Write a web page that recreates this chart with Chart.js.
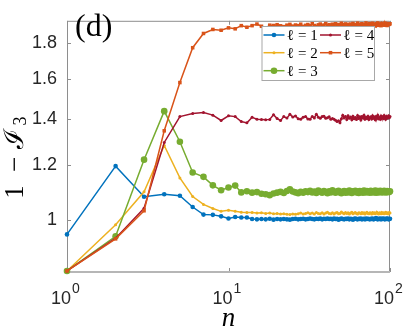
<!DOCTYPE html>
<html><head><meta charset="utf-8">
<script src="https://cdn.jsdelivr.net/npm/chart.js@4.4.0/dist/chart.umd.min.js"></script>
<style>html,body{margin:0;padding:0;background:#fff;} #wrap{width:407px;height:332px;}</style>
</head><body><div id="wrap"><canvas id="c" width="407" height="332"></canvas></div>
<script>
const nValues = [1,2,3,4,5,6,7,8,9,10,11,12,13,14,15,16,17,18,19,20,21,22,23,24,25,26,27,28,29,30,31,32,33,34,35,36,37,38,39,40,41,42,43,44,45,46,47,48,49,50,51,52,53,54,55,56,57,58,59,60,61,62,63,64,65,66,67,68,69,70,71,72,73,74,75,76,77,78,79,80,81,82,83,84,85,86,87,88,89,90,91,92,93,94,95,96,97,98,99,100];

const legendLabels = ['\u2113 = 1','\u2113 = 2','\u2113 = 3','\u2113 = 4','\u2113 = 5'];

const seriesL1 = [0.954,1.197,1.081,1.090,1.085,1.045,1.019,1.018,1.013,1.006,1.011,1.009,1.009,1.004,1.003,
1.004,1.003,1.005,1.002,1.004,1.003,1.004,1.003,1.002,1.004,1.005,1.003,1.004,1.005,1.003,
1.004,1.006,1.004,1.003,1.005,1.004,1.006,1.003,1.005,1.004,1.006,1.004,1.005,1.003,1.006,
1.004,1.005,1.002,1.004,1.006,1.004,1.003,1.005,1.004,1.006,1.003,1.005,1.004,1.002,1.005,
1.006,1.004,1.003,1.005,1.004,1.006,1.003,1.004,1.005,1.003,1.006,1.004,1.005,1.004,1.003,
1.005,1.004,1.006,1.003,1.004,1.005,1.007,1.004,1.003,1.005,1.004,1.006,1.003,1.005,1.004,
1.006,1.004,1.003,1.005,1.004,1.006,1.005,1.003,1.004,1.005];

const seriesL2 = [0.845,0.985,1.099,1.282,1.151,1.082,1.054,1.040,1.030,1.034,1.030,1.027,1.026,1.026,1.024,
1.025,1.023,1.024,1.022,1.023,1.021,1.022,1.020,1.019,1.021,1.020,1.022,1.024,1.021,1.023,
1.025,1.022,1.024,1.021,1.026,1.023,1.022,1.025,1.021,1.024,1.027,1.023,1.022,1.025,1.021,
1.024,1.026,1.022,1.023,1.028,1.024,1.022,1.026,1.023,1.025,1.021,1.024,1.027,1.022,1.024,
1.026,1.023,1.021,1.025,1.024,1.022,1.026,1.023,1.025,1.021,1.024,1.027,1.023,1.022,1.025,
1.024,1.021,1.026,1.023,1.025,1.022,1.024,1.027,1.023,1.021,1.025,1.024,1.022,1.026,1.023,
1.025,1.022,1.024,1.027,1.023,1.025,1.022,1.024,1.026,1.024];

const seriesL3 = [0.845,0.948,1.223,1.437,1.298,1.172,1.155,1.123,1.105,1.115,1.122,1.097,1.101,1.096,1.098,
1.092,1.090,1.087,1.093,1.096,1.099,1.095,1.102,1.108,1.100,1.097,1.094,1.099,1.096,1.101,
1.098,1.103,1.097,1.100,1.095,1.104,1.099,1.096,1.102,1.098,1.094,1.101,1.097,1.105,1.099,
1.096,1.100,1.103,1.097,1.094,1.099,1.102,1.096,1.100,1.097,1.104,1.098,1.095,1.101,1.099,
1.103,1.097,1.100,1.095,1.102,1.098,1.101,1.096,1.104,1.099,1.097,1.102,1.098,1.100,1.096,
1.103,1.099,1.097,1.101,1.098,1.104,1.096,1.100,1.102,1.097,1.099,1.103,1.098,1.101,1.097,
1.100,1.103,1.098,1.101,1.097,1.102,1.099,1.100,1.098,1.101];

const seriesL4 = [0.845,0.942,1.041,1.295,1.411,1.426,1.430,1.418,1.393,1.415,1.411,1.388,1.382,1.408,1.399,
1.397,1.396,1.398,1.420,1.402,1.393,1.411,1.404,1.422,1.409,1.414,1.401,1.399,1.408,1.411,
1.400,1.399,1.412,1.405,1.422,1.408,1.403,1.411,1.413,1.403,1.406,1.410,1.399,1.402,1.399,
1.394,1.388,1.392,1.382,1.401,1.418,1.405,1.412,1.397,1.415,1.403,1.409,1.396,1.413,1.401,
1.407,1.398,1.416,1.402,1.410,1.395,1.411,1.404,1.417,1.399,1.408,1.402,1.413,1.397,1.406,
1.410,1.400,1.415,1.403,1.409,1.396,1.412,1.405,1.418,1.401,1.407,1.399,1.414,1.404,1.410,
1.402,1.416,1.406,1.399,1.412,1.404,1.409,1.415,1.406,1.411];

const seriesL5 = [0.845,0.940,1.032,1.346,1.580,1.774,1.860,1.885,1.880,1.895,1.889,1.909,1.899,1.909,1.919,
1.905,1.893,1.912,1.910,1.915,1.908,1.903,1.912,1.917,1.906,1.913,1.909,1.918,1.904,1.911,
1.916,1.908,1.921,1.910,1.905,1.914,1.919,1.907,1.913,1.922,1.909,1.915,1.906,1.918,1.912,
1.921,1.908,1.916,1.911,1.924,1.907,1.915,1.920,1.910,1.917,1.905,1.919,1.913,1.923,1.909,
1.916,1.912,1.925,1.908,1.918,1.914,1.921,1.906,1.917,1.911,1.926,1.913,1.919,1.909,1.922,
1.915,1.910,1.924,1.912,1.918,1.907,1.921,1.914,1.926,1.911,1.917,1.920,1.909,1.923,1.915,
1.918,1.912,1.925,1.914,1.920,1.910,1.922,1.916,1.919,1.921];

const xTickValues = [1, 10, 100];
const xTickExponents = ['0', '1', '2'];
const yTickValues = [1, 1.2, 1.4, 1.6, 1.8];
const yTickLabels = ['1', '1.2', '1.4', '1.6', '1.8'];

const SANS = '"Liberation Sans", Arial, Helvetica, sans-serif';
const SERIF = '"Liberation Serif", "DejaVu Serif", "Times New Roman", serif';

function makeDataset(label, values, color, style, radius, order) {
  return {
    label: label,
    data: nValues.map((n, i) => ({ x: n, y: values[i] })),
    borderColor: color,
    backgroundColor: color,
    borderWidth: 1.5,
    pointStyle: style,
    pointRadius: radius,
    pointHoverRadius: radius,
    pointBorderWidth: 0,
    pointBackgroundColor: color,
    tension: 0,
    order: order,
    clip: false
  };
}

const datasets = [
  makeDataset(legendLabels[0], seriesL1, '#0072BD', 'circle', 2.3, 5),
  makeDataset(legendLabels[1], seriesL2, '#EDB120', 'circle', 1.5, 4),
  makeDataset(legendLabels[2], seriesL3, '#77AC30', 'circle', 3.3, 3),
  makeDataset(legendLabels[3], seriesL4, '#A2142F', 'circle', 1.5, 2),
  makeDataset(legendLabels[4], seriesL5, '#D95319', 'rect', 2.5, 1)
];

const frame = {
  id: 'frame',
  beforeDatasetsDraw(chart) {
    const { ctx, chartArea: a, scales: { x, y } } = chart;
    ctx.save();
    ctx.strokeStyle = '#8e8e8e';
    ctx.lineWidth = 1;
    ctx.beginPath();
    ctx.moveTo(a.left + 0.5, a.bottom);
    ctx.lineTo(a.left + 0.5, a.top + 0.5);
    ctx.lineTo(a.right - 0.5, a.top + 0.5);
    ctx.lineTo(a.right - 0.5, a.bottom);
    ctx.stroke();
    const tl = 4;
    ctx.beginPath();
    xTickValues.forEach(v => {
      const px = Math.round(x.getPixelForValue(v)) + 0.5;
      ctx.moveTo(px, a.bottom); ctx.lineTo(px, a.bottom - tl);
      ctx.moveTo(px, a.top); ctx.lineTo(px, a.top + tl);
    });
    yTickValues.forEach(v => {
      const py = Math.round(y.getPixelForValue(v)) + 0.5;
      ctx.moveTo(a.left, py); ctx.lineTo(a.left + tl, py);
      ctx.moveTo(a.right, py); ctx.lineTo(a.right - tl, py);
    });
    ctx.stroke();
    ctx.strokeStyle = '#b6b6b6';
    ctx.lineWidth = 2;
    ctx.beginPath();
    ctx.moveTo(a.left, a.bottom);
    ctx.lineTo(a.right, a.bottom);
    ctx.stroke();
    ctx.restore();
  },
  afterDatasetsDraw(chart) {
    const { ctx, chartArea: a } = chart;
    ctx.save();
    const bx = a.right - 15.5 - 112.5, by = 26.5, bw = 112.5, bh = 54;
    ctx.fillStyle = '#ffffff';
    ctx.fillRect(bx, by, bw, bh);
    ctx.strokeStyle = '#a8a8a8';
    ctx.lineWidth = 1;
    ctx.strokeRect(bx, by, bw, bh);
    const cols = [bx + 1.5, bx + 58];
    const rows = [by + 8.5, by + 26.2, by + 44.2];
    const slots = [[0,0],[0,1],[0,2],[1,0],[1,1]];
    ctx.font = '15px ' + SERIF;
    ctx.textBaseline = 'middle';
    chart.data.datasets.forEach((ds, i) => {
      const [c, r] = slots[i];
      const lx = cols[c], ly = rows[r];
      ctx.strokeStyle = ds.borderColor;
      ctx.lineWidth = 1.5;
      ctx.beginPath(); ctx.moveTo(lx, ly); ctx.lineTo(lx + 21, ly); ctx.stroke();
      ctx.fillStyle = ds.borderColor;
      Chart.helpers.drawPoint(ctx, { pointStyle: ds.pointStyle, radius: ds.pointRadius, rotation: 0, borderWidth: 0 }, lx + 10.5, ly);
      ctx.fillStyle = '#000';
      ctx.fillText(ds.label, lx + 23.5, ly + 1);
    });
    ctx.restore();
  },
  afterDraw(chart) {
    const { ctx, chartArea: a, scales: { x } } = chart;
    ctx.save();
    ctx.fillStyle = '#262626';
    ctx.textBaseline = 'alphabetic';
    xTickValues.forEach((v, i) => {
      const px = x.getPixelForValue(v);
      ctx.font = '18px ' + SANS;
      const wb = ctx.measureText('10').width;
      ctx.font = '14px ' + SANS;
      const we = ctx.measureText(xTickExponents[i]).width;
      const start = px - (wb + 1 + we) / 2 - 1.5;
      ctx.font = '18px ' + SANS;
      ctx.fillText('10', start, 303.5);
      ctx.font = '14px ' + SANS;
      ctx.fillText(xTickExponents[i], start + wb + 1, 293);
    });
    ctx.fillStyle = '#000';
    ctx.font = 'italic 27px ' + SERIF;
    ctx.textAlign = 'center';
    ctx.fillText('n', (a.left + a.right) / 2, 326);
    ctx.save();
    ctx.translate(0, 154.5);
    ctx.rotate(-Math.PI / 2);
    ctx.font = '27px ' + SERIF;
    ctx.textAlign = 'center';
    ctx.fillText('1', -37.5, 23.3);
    ctx.fillText('\u2212', -10, 23.3);
    ctx.fillText('\u2110', 16, 23.3);
    ctx.font = '18px ' + SERIF;
    ctx.fillText('3', 33.5, 26);
    ctx.restore();
    ctx.textAlign = 'left';
    ctx.font = '32px ' + SERIF;
    ctx.fillText('(d)', a.left + 8, 36);
    ctx.restore();
  }
};

new Chart(document.getElementById('c'), {
  type: 'line',
  data: { datasets: datasets },
  options: {
    responsive: false,
    devicePixelRatio: 1,
    animation: false,
    events: [],
    layout: { padding: { left: 0, right: 17, top: 5, bottom: 0 } },
    plugins: { legend: { display: false }, tooltip: { enabled: false } },
    scales: {
      x: {
        type: 'logarithmic', min: 1, max: 100, bounds: 'data',
        afterBuildTicks: axis => { axis.ticks = xTickValues.map(v => ({ value: v })); },
        afterFit: axis => { axis.height = 60; },
        ticks: { display: false },
        grid: { display: false, drawTicks: false },
        border: { display: false }
      },
      y: {
        type: 'logarithmic', min: 0.842, max: 1.94, bounds: 'data',
        afterBuildTicks: axis => { axis.ticks = yTickValues.map(v => ({ value: v })); },
        afterFit: axis => { axis.width = 67; },
        ticks: {
          autoSkip: false, padding: 10, color: '#262626',
          font: { family: SANS, size: 18 },
          callback: (v, i) => yTickLabels[i]
        },
        grid: { display: false, drawTicks: false },
        border: { display: false }
      }
    }
  },
  plugins: [frame]
});
</script>
</body></html>
